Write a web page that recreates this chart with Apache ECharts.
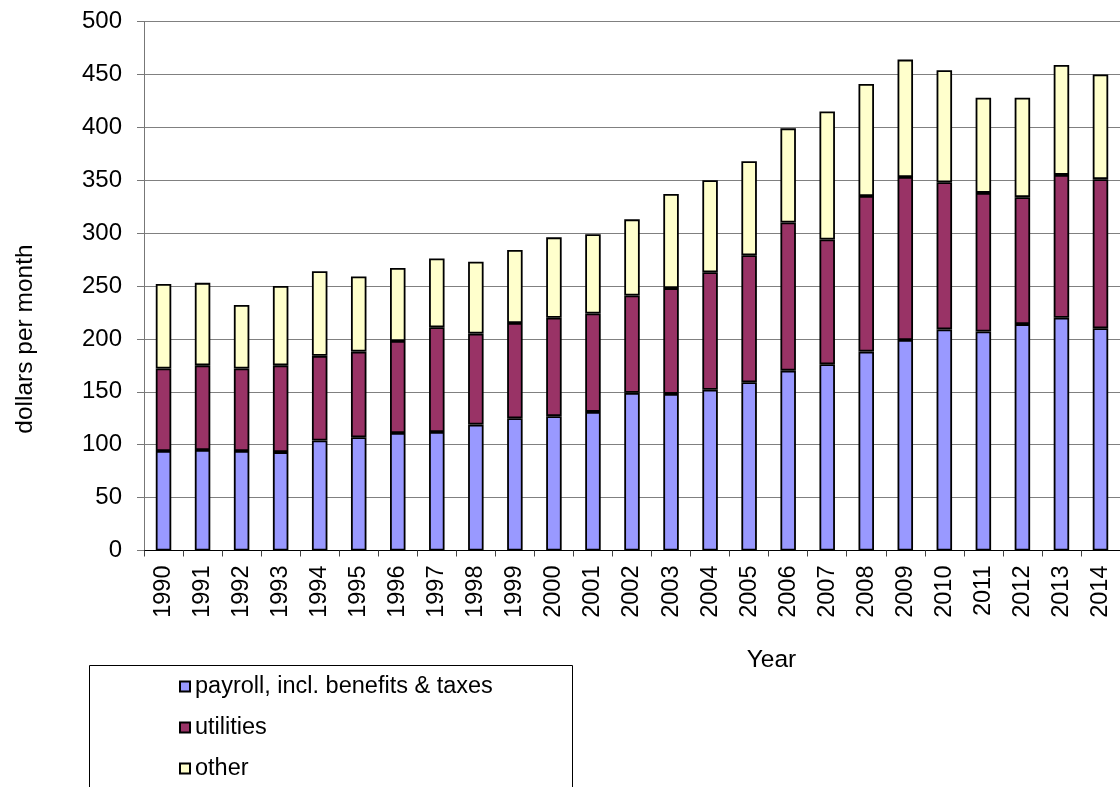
<!DOCTYPE html>
<html>
<head>
<meta charset="utf-8">
<title>Monthly operating costs</title>
<script src="https://cdn.jsdelivr.net/npm/echarts@6/dist/echarts.min.js"></script>
<style>
  html, body { margin: 0; padding: 0; background: #fff; }
  #chart { width: 1120px; height: 787px; }
</style>
</head>
<body>
<div id="chart"></div>
<script>
// Monthly costs (dollars per month), split into three stacked components
const years = ['1990','1991','1992','1993','1994','1995','1996','1997','1998','1999',
               '2000','2001','2002','2003','2004','2005','2006','2007','2008','2009',
               '2010','2011','2012','2013','2014'];
const payroll   = [94, 95, 94, 93, 104, 107, 111, 112, 119, 125, 127, 131, 149, 148, 152, 159, 170, 176, 188, 199, 209, 207, 214, 220, 210];
const utilities = [78, 80, 78, 82, 80, 81, 87, 99, 86, 90, 93, 93, 92, 100, 111, 120, 140, 118, 147, 154, 139, 131, 120, 135, 141];
const other     = [80, 78, 60, 75, 80, 71, 69, 65, 68, 69, 76, 75, 72, 89, 87, 89, 89, 121, 106, 111, 106, 90, 94, 104, 99];
const seriesNames = ['payroll, incl. benefits & taxes', 'utilities', 'other'];
const yTicks = { min: 0, max: 500, interval: 50 };

const FONT = '"Liberation Sans", Arial, sans-serif';
const colors = ['#9999FF', '#993366', '#FFFFCC'];

function stackSeries(name, data, color) {
  return {
    name: name,
    type: 'bar',
    stack: 'total',
    data: data,
    barWidth: 15.5,
    itemStyle: { color: color, borderColor: '#000', borderWidth: 1.8 },
    emphasis: { disabled: true },
    animation: false
  };
}

const chart = echarts.init(document.getElementById('chart'), null, { renderer: 'canvas' });
chart.setOption({
  backgroundColor: '#fff',
  animation: false,
  grid: { left: 144, top: 21.5, width: 982.2, height: 529, containLabel: false },
  xAxis: {
    type: 'category',
    data: years,
    boundaryGap: true,
    axisLine: { lineStyle: { color: '#000', width: 1 } },
    axisTick: { show: true, length: 6, lineStyle: { color: '#444' } },
    axisLabel: { rotate: 90, margin: 15, color: '#000', fontFamily: FONT, fontSize: 23.5 },
    splitLine: { show: false }
  },
  yAxis: {
    type: 'value',
    min: yTicks.min,
    max: yTicks.max,
    interval: yTicks.interval,
    axisLine: { show: true, lineStyle: { color: '#777', width: 1 } },
    axisTick: { show: true, length: 7, inside: false, lineStyle: { color: '#777' } },
    axisLabel: { margin: 22, color: '#000', fontFamily: FONT, fontSize: 24 },
    splitLine: { show: true, lineStyle: { color: '#808080', width: 1 } }
  },
  legend: {
    orient: 'vertical',
    left: 179,
    top: 674.5,
    padding: 0,
    itemGap: 17,
    itemWidth: 10,
    itemHeight: 10,
    icon: 'rect',
    selectedMode: false,
    data: seriesNames,
    itemStyle: { borderColor: '#000', borderWidth: 2 },
    textStyle: { color: '#000', fontFamily: FONT, fontSize: 23.5, padding: [0, 0, 0, 0] }
  },
  graphic: [
    {
      type: 'rect',
      silent: true,
      shape: { x: 89.5, y: 665.5, width: 483, height: 200 },
      style: { fill: 'none', stroke: '#000', lineWidth: 1 }
    },
    {
      type: 'text',
      silent: true,
      x: 25, y: 339,
      rotation: Math.PI / 2,
      style: { text: 'dollars per month', fill: '#000', font: '24.5px ' + FONT, align: 'center', verticalAlign: 'middle' }
    },
    {
      type: 'text',
      silent: true,
      x: 771.5, y: 660,
      style: { text: 'Year', fill: '#000', font: '24.5px ' + FONT, align: 'center', verticalAlign: 'middle' }
    }
  ],
  series: [
    stackSeries(seriesNames[0], payroll, colors[0]),
    stackSeries(seriesNames[1], utilities, colors[1]),
    stackSeries(seriesNames[2], other, colors[2])
  ]
});
</script>
</body>
</html>
